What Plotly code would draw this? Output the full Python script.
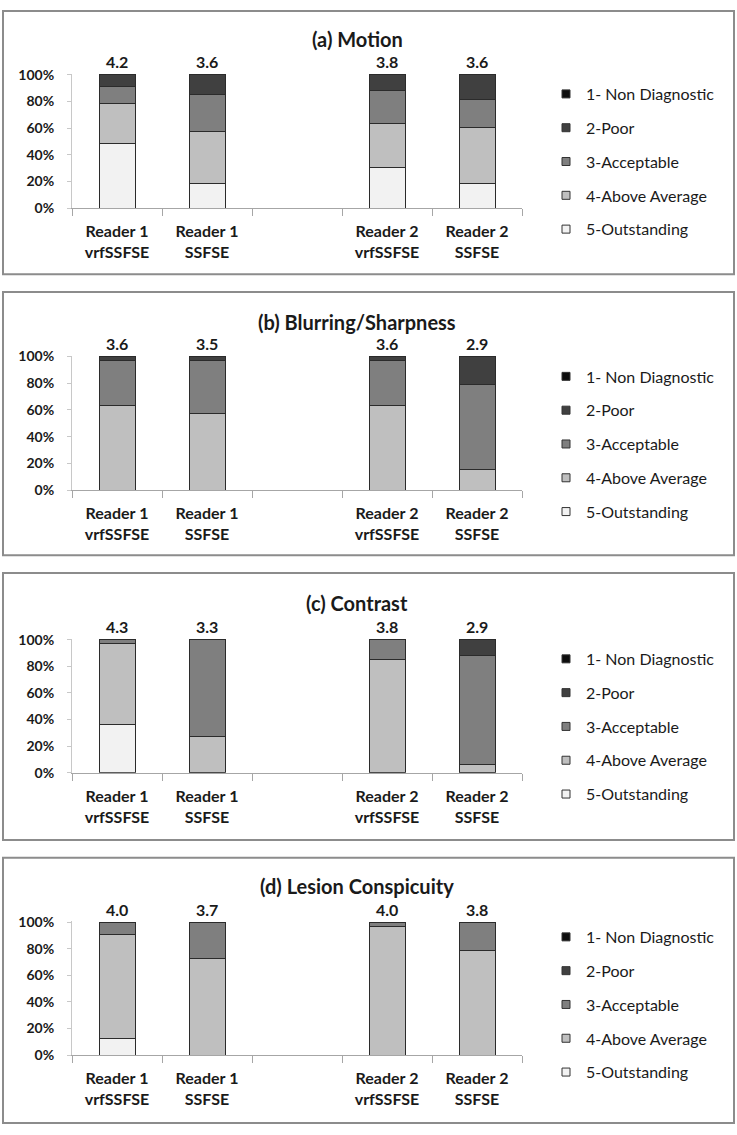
import plotly.graph_objects as go
from plotly.subplots import make_subplots

W, H = 737, 1135
FONT = "Lato"

categories = ["Reader 1<br>vrfSSFSE", "Reader 1<br>SSFSE", " ", "Reader 2<br>vrfSSFSE", "Reader 2<br>SSFSE"]
ratings = ["1- Non Diagnostic", "2-Poor", "3-Acceptable", "4-Above Average", "5-Outstanding"]
colors = ["#0d0d0d", "#404040", "#7f7f7f", "#bfbfbf", "#f2f2f2"]
titles = ["(a) Motion", "(b) Blurring/Sharpness", "(c) Contrast", "(d) Lesion Conspicuity"]

# percentages per rating (1..5) per category (blank slot = None)
motion = {
    "1- Non Diagnostic": [0, 0, None, 0, 0],
    "2-Poor": [9.1, 15.1, None, 12.1, 18.2],
    "3-Acceptable": [12.1, 27.3, None, 24.3, 21.2],
    "4-Above Average": [30.3, 39.4, None, 33.3, 42.4],
    "5-Outstanding": [48.5, 18.2, None, 30.3, 18.2],
}
blurring = {
    "1- Non Diagnostic": [0, 0, None, 0, 0],
    "2-Poor": [3.0, 3.0, None, 3.0, 21.2],
    "3-Acceptable": [33.4, 39.4, None, 33.4, 63.6],
    "4-Above Average": [63.6, 57.6, None, 63.6, 15.2],
    "5-Outstanding": [0, 0, None, 0, 0],
}
contrast = {
    "1- Non Diagnostic": [0, 0, None, 0, 0],
    "2-Poor": [0, 0, None, 0, 12.1],
    "3-Acceptable": [3.0, 72.7, None, 15.2, 81.8],
    "4-Above Average": [60.6, 27.3, None, 84.8, 6.1],
    "5-Outstanding": [36.4, 0, None, 0, 0],
}
lesion = {
    "1- Non Diagnostic": [0, 0, None, 0, 0],
    "2-Poor": [0, 0, None, 0, 0],
    "3-Acceptable": [9.1, 27.3, None, 3.0, 21.2],
    "4-Above Average": [78.8, 72.7, None, 97.0, 78.8],
    "5-Outstanding": [12.1, 0, None, 0, 0],
}
panels = [motion, blurring, contrast, lesion]

mean_motion = ["4.2", "3.6", "", "3.8", "3.6"]
mean_blurring = ["3.6", "3.5", "", "3.6", "2.9"]
mean_contrast = ["4.3", "3.3", "", "3.8", "2.9"]
mean_lesion = ["4.0", "3.7", "", "4.0", "3.8"]
means = [mean_motion, mean_blurring, mean_contrast, mean_lesion]

y_tickvals = [0, 20, 40, 60, 80, 100]
y_ticktext = ["0%", "20%", "40%", "60%", "80%", "100%"]


def px_x(p):
    return p / W


def px_y(p):
    return 1 - p / H


# pixel layout of each panel: (border top, border bottom, plot top, plot bottom, title y, legend top)
panel_px = [
    (3, 270, 67, 203, 31, 70),
    (288, 555, 352.7, 489, 318.3, 356.5),
    (573, 844, 640, 775.7, 603.3, 643),
    (862, 1131, 926.3, 1062, 890.7, 925),
]
plot_x0, plot_x1 = 72, 522

fig = make_subplots(rows=4, cols=1)

for i, (data, mvals) in enumerate(zip(panels, means)):
    row = i + 1
    lg = "legend" if i == 0 else f"legend{i + 1}"
    # stacked bars bottom (5) to top (1)
    for r in reversed(range(5)):
        name = ratings[r]
        fig.add_trace(go.Bar(
            x=categories, y=data[name], name=name,
            marker=dict(color=colors[r], line=dict(color="#2b2b2b", width=1)),
            showlegend=False, legendgroup=f"p{i}r{r}", legend=lg,
            hovertemplate="%{x}: %{y:.1f}%<extra>" + name + "</extra>",
        ), row=row, col=1)
    for r in range(5):
        fig.add_trace(go.Scatter(
            x=[None], y=[None], mode="markers", name=ratings[r],
            marker=dict(symbol="square", size=8, color=colors[r],
                        line=dict(color="#333333", width=1)),
            showlegend=True, legendgroup=f"p{i}r{r}", legend=lg,
        ), row=row, col=1)

    bt, bb, pt, pb, ty, lt = panel_px[i]
    xa = "xaxis" if i == 0 else f"xaxis{i + 1}"
    ya = "yaxis" if i == 0 else f"yaxis{i + 1}"
    xref = "x" if i == 0 else f"x{i + 1}"
    yref = "y" if i == 0 else f"y{i + 1}"
    fig.update_layout({
        xa: dict(domain=[px_x(plot_x0), px_x(plot_x1)], type="category",
                 categoryorder="array", categoryarray=categories,
                 showline=True, linecolor="#a6a6a6", linewidth=1,
                 ticks="outside", tickson="boundaries", ticklen=7, tickcolor="#a6a6a6",
                 ticklabelstandoff=9,
                 showgrid=False, zeroline=False, fixedrange=True,
                 tickfont=dict(family=FONT, size=16, color="#1a1a1a", weight="bold")),
        ya: dict(domain=[px_y(pb), px_y(pt)], range=[0, 100.6],
                 tickvals=y_tickvals, ticktext=y_ticktext,
                 showline=True, linecolor="#c8c8c8", linewidth=1,
                 ticks="outside", ticklen=4, tickcolor="#c8c8c8",
                 ticklabelstandoff=10,
                 showgrid=False, zeroline=False, fixedrange=True,
                 tickfont=dict(family=FONT, size=14, color="#1a1a1a", weight="bold")),
        lg: dict(x=px_x(546), y=px_y(lt), xanchor="left", yanchor="top",
                 traceorder="grouped", tracegroupgap=10, itemwidth=30,
                 bgcolor="rgba(0,0,0,0)",
                 font=dict(family=FONT, size=16, color="#1a1a1a")),
    })
    # panel border
    fig.add_shape(type="rect", xref="paper", yref="paper",
                  x0=px_x(3), x1=px_x(734), y0=px_y(bb), y1=px_y(bt),
                  line=dict(color="#8c8c8c", width=2), fillcolor="rgba(0,0,0,0)")
    # title
    fig.add_annotation(text=titles[i], xref="paper", yref="paper",
                       x=px_x(357), y=px_y(ty), xanchor="center", yanchor="middle",
                       showarrow=False,
                       font=dict(family=FONT, size=20, color="#1a1a1a", weight="bold"))
    # mean score labels above bars
    for c, m in zip(categories, mvals):
        if m:
            fig.add_annotation(text=m, xref=xref, yref=yref, x=c, y=100,
                               xanchor="center", yanchor="middle", yshift=13,
                               showarrow=False,
                               font=dict(family=FONT, size=16, color="#1a1a1a", weight="bold"))

fig.update_layout(
    width=W, height=H, margin=dict(l=0, r=0, t=0, b=0),
    barmode="stack", bargap=0.6,
    paper_bgcolor="white", plot_bgcolor="white",
    font=dict(family=FONT, color="#1a1a1a"),
)

fig.write_html("out.html", config={"displayModeBar": False},
               post_script="document.body.style.margin='0px';document.body.style.overflow='hidden';")
